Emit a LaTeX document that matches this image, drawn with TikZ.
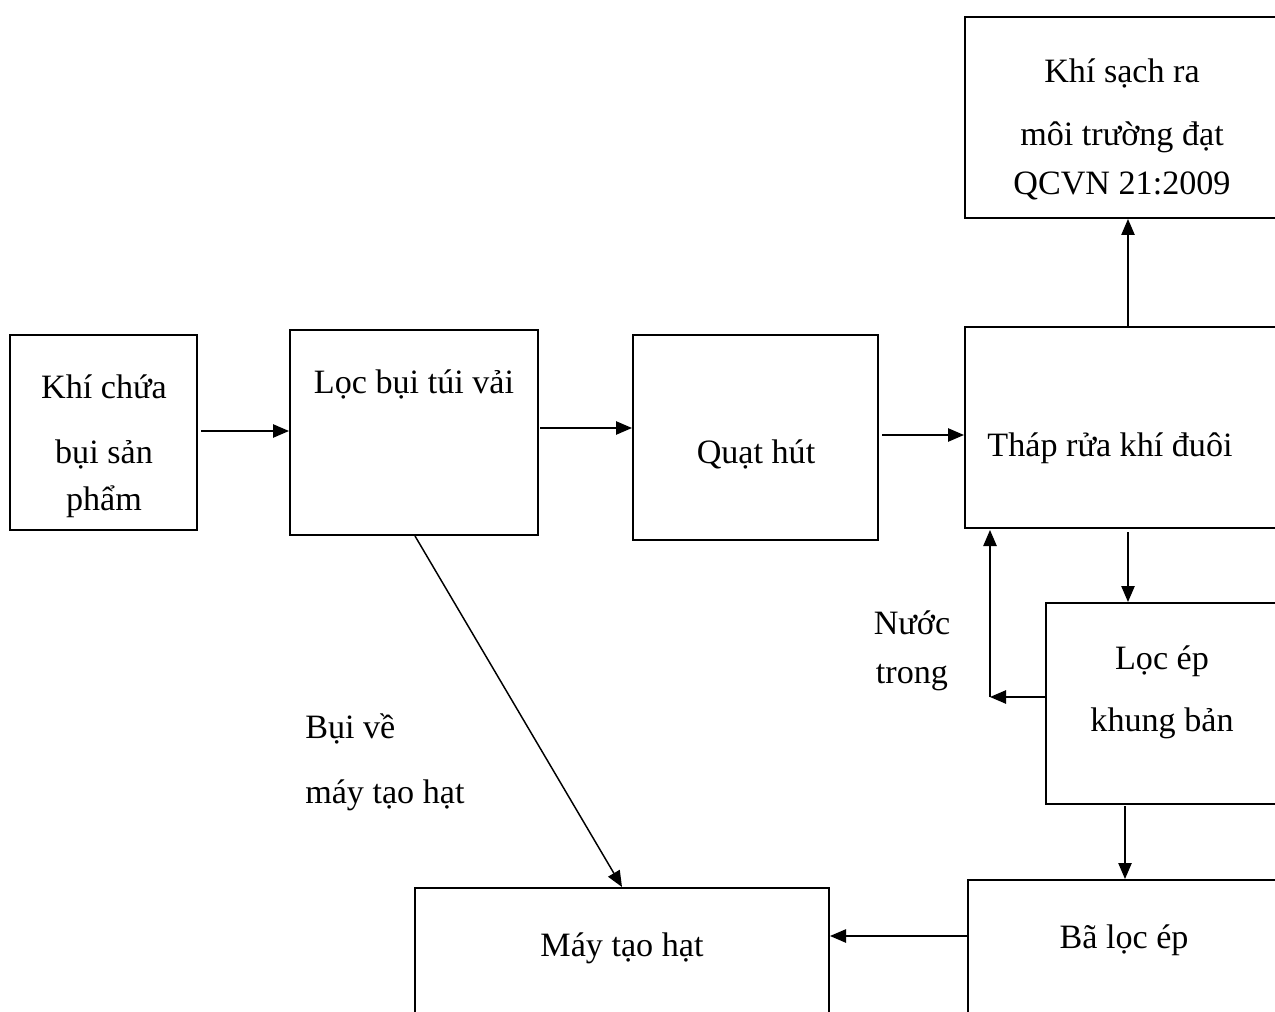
\documentclass[tikz,border=0pt]{standalone}
\usepackage{fontspec}
\setmainfont{Liberation Serif}
\usetikzlibrary{fit,arrows.meta}

\begin{document}
\begin{tikzpicture}[x=0.75pt,y=-0.75pt,
  box/.style={draw,line width=1.5pt,inner sep=0pt},
  txt/.style={inner sep=0pt,anchor=base,font=\fontsize{25.6}{30}\selectfont},
  flow/.style={-{Triangle[length=12pt,width=10pt]},line width=1.1pt}]
\useasboundingbox (0,0) rectangle (1275,1012);
\clip (0,0) rectangle (1275,1012);
% boxes
\node[box,fit={(10,335) (197,530)}] (khi) {};
\node[box,fit={(290,330) (538,535)}] (loc) {};
\node[box,fit={(633,335) (878,540)}] (quat) {};
\node[box,fit={(965,327) (1290,528)}] (thap) {};
\node[box,fit={(965,17) (1290,218)}] (sach) {};
\node[box,fit={(1046,603) (1290,804)}] (locep) {};
\node[box,fit={(968,880) (1290,1030)}] (ba) {};
\node[box,fit={(415,888) (829,1030)}] (may) {};
% texts
\node[txt] (t1) at (104,399) {Khí chứa};
\node[txt] (t2) at (104,464) {bụi sản};
\node[txt] (t3) at (104,511) {phẩm};
\node[txt] (t4) at (414,394) {Lọc bụi túi vải};
\node[txt] (t5) at (756,464) {Quạt hút};
\node[txt] (t6) at (1110,457) {Tháp rửa khí đuôi};
\node[txt] (t7) at (1122,83) {Khí sạch ra};
\node[txt] (t8) at (1122,146) {môi trường đạt};
\node[txt] (t9) at (1122,195) {QCVN 21:2009};
\node[txt] (t10) at (1162,669) {Lọc ép};
\node[txt] (t11) at (1162,731) {khung bản};
\node[txt] (t12) at (1124,948) {Bã lọc ép};
\node[txt] (t13) at (622,956) {Máy tạo hạt};
\node[txt] (t14) at (912,634) {Nước};
\node[txt] (t15) at (912,683) {trong};
\node[txt,anchor=base west] (t16) at (305,738) {Bụi về};
\node[txt,anchor=base west] (t17) at (305,803) {máy tạo hạt};
% arrows
\coordinate (w) at (990,697);
\draw[flow] (201,431) -- (loc.west|-0,431);
\draw[flow] (540,428) -- (quat.west|-0,428);
\draw[flow] (882,435) -- (thap.west|-0,435);
\draw[flow] (1128,327) -- (sach.south-|1128,0);
\draw[flow] (1128,532) -- (locep.north-|1128,0);
\draw[flow] (locep.west|-w) -- (w);
\draw[flow] (w) -- (990,530);
\draw[flow] (1125,806) -- (ba.north-|1125,0);
\draw[flow] (ba.west|-0,936) -- (may.east|-0,936);
\draw[flow] (415,536) -- (may.north-|622,0);
\end{tikzpicture}
\end{document}
